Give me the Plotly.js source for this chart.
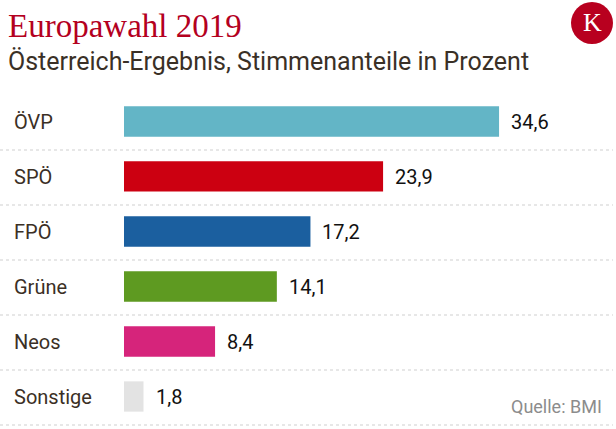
<!DOCTYPE html>
<html>
<head>
<meta charset="utf-8">
<script src="https://cdn.plot.ly/plotly-3.0.1.min.js"></script>
<style>html,body{margin:0;padding:0;background:#fff}#chart{width:616px;height:429px}</style>
</head>
<body>
<div id="chart"></div>
<script>
const parties = ["ÖVP", "SPÖ", "FPÖ", "Grüne", "Neos", "Sonstige"];
const shares = [34.6, 23.9, 17.2, 14.1, 8.4, 1.8];
const colors = ["#63b5c6", "#cc0011", "#1b5f9f", "#5e9a21", "#d6247b", "#e3e3e3"];
const titleText = "Europawahl 2019";
const subtitleText = "Österreich-Ergebnis, Stimmenanteile in Prozent";
const sourceText = "Quelle: BMI";

const W = 616, H = 429;
const px = x => x / W;
const py = y => 1 - y / H;

const fmt = v => v.toFixed(1).replace(".", ",");

const trace = {
  type: "bar",
  orientation: "h",
  y: parties,
  x: shares,
  marker: { color: colors },
  width: 0.55,
  hoverinfo: "skip"
};

const annotations = [];
parties.forEach((p, i) => {
  annotations.push({
    xref: "paper", yref: "y", x: px(12), y: p,
    xanchor: "left", yanchor: "middle", showarrow: false,
    text: p, font: { family: "Roboto", size: 20, color: "#3b2f25" }
  });
  annotations.push({
    xref: "x", yref: "y", x: shares[i], y: p, xshift: 10,
    xanchor: "left", yanchor: "middle", showarrow: false,
    text: fmt(shares[i]), font: { family: "Roboto", size: 20, color: "#111" }
  });
});
annotations.push({
  xref: "paper", yref: "paper", x: px(6), y: py(26), xanchor: "left", yanchor: "middle",
  showarrow: false, text: titleText,
  font: { family: "Liberation Serif", size: 33, color: "#b4001e" }
});
annotations.push({
  xref: "paper", yref: "paper", x: px(6), y: py(62), xanchor: "left", yanchor: "middle",
  showarrow: false, text: subtitleText,
  font: { family: "Roboto", size: 25, color: "#3a3026" }
});
annotations.push({
  xref: "paper", yref: "paper", x: px(604), y: py(406), xanchor: "right", yanchor: "middle",
  showarrow: false, text: sourceText,
  font: { family: "Roboto", size: 18, color: "#8c8c8c" }
});
annotations.push({
  xref: "paper", yref: "paper", x: px(592), y: py(23), xanchor: "center", yanchor: "middle",
  showarrow: false, text: "K",
  font: { family: "Liberation Serif", size: 26, color: "#ffffff" }
});

const shapes = [];
for (let k = 0; k < parties.length; k++) {
  const yy = py(150 + 55 * k);
  shapes.push({
    type: "line", xref: "paper", yref: "paper",
    x0: px(0), x1: px(613), y0: yy, y1: yy,
    line: { color: "#cfcfcf", width: 1, dash: "dot" }
  });
}
shapes.push({
  type: "circle", xref: "paper", yref: "paper",
  x0: px(571), x1: px(613), y0: py(44), y1: py(2),
  fillcolor: "#b8001f", line: { width: 0 }
});

const layout = {
  width: W, height: H,
  margin: { l: 0, r: 0, t: 0, b: 0 },
  paper_bgcolor: "#fff", plot_bgcolor: "#fff",
  showlegend: false,
  xaxis: {
    domain: [124 / W, 1], range: [0, (W - 124) / 10.84],
    visible: false, fixedrange: true
  },
  yaxis: {
    domain: [py(424), py(94)], range: [5.5, -0.5],
    type: "category", visible: false, fixedrange: true
  },
  annotations: annotations,
  shapes: shapes
};

Plotly.newPlot("chart", [trace], layout, { displayModeBar: false, staticPlot: true });
</script>
</body>
</html>
